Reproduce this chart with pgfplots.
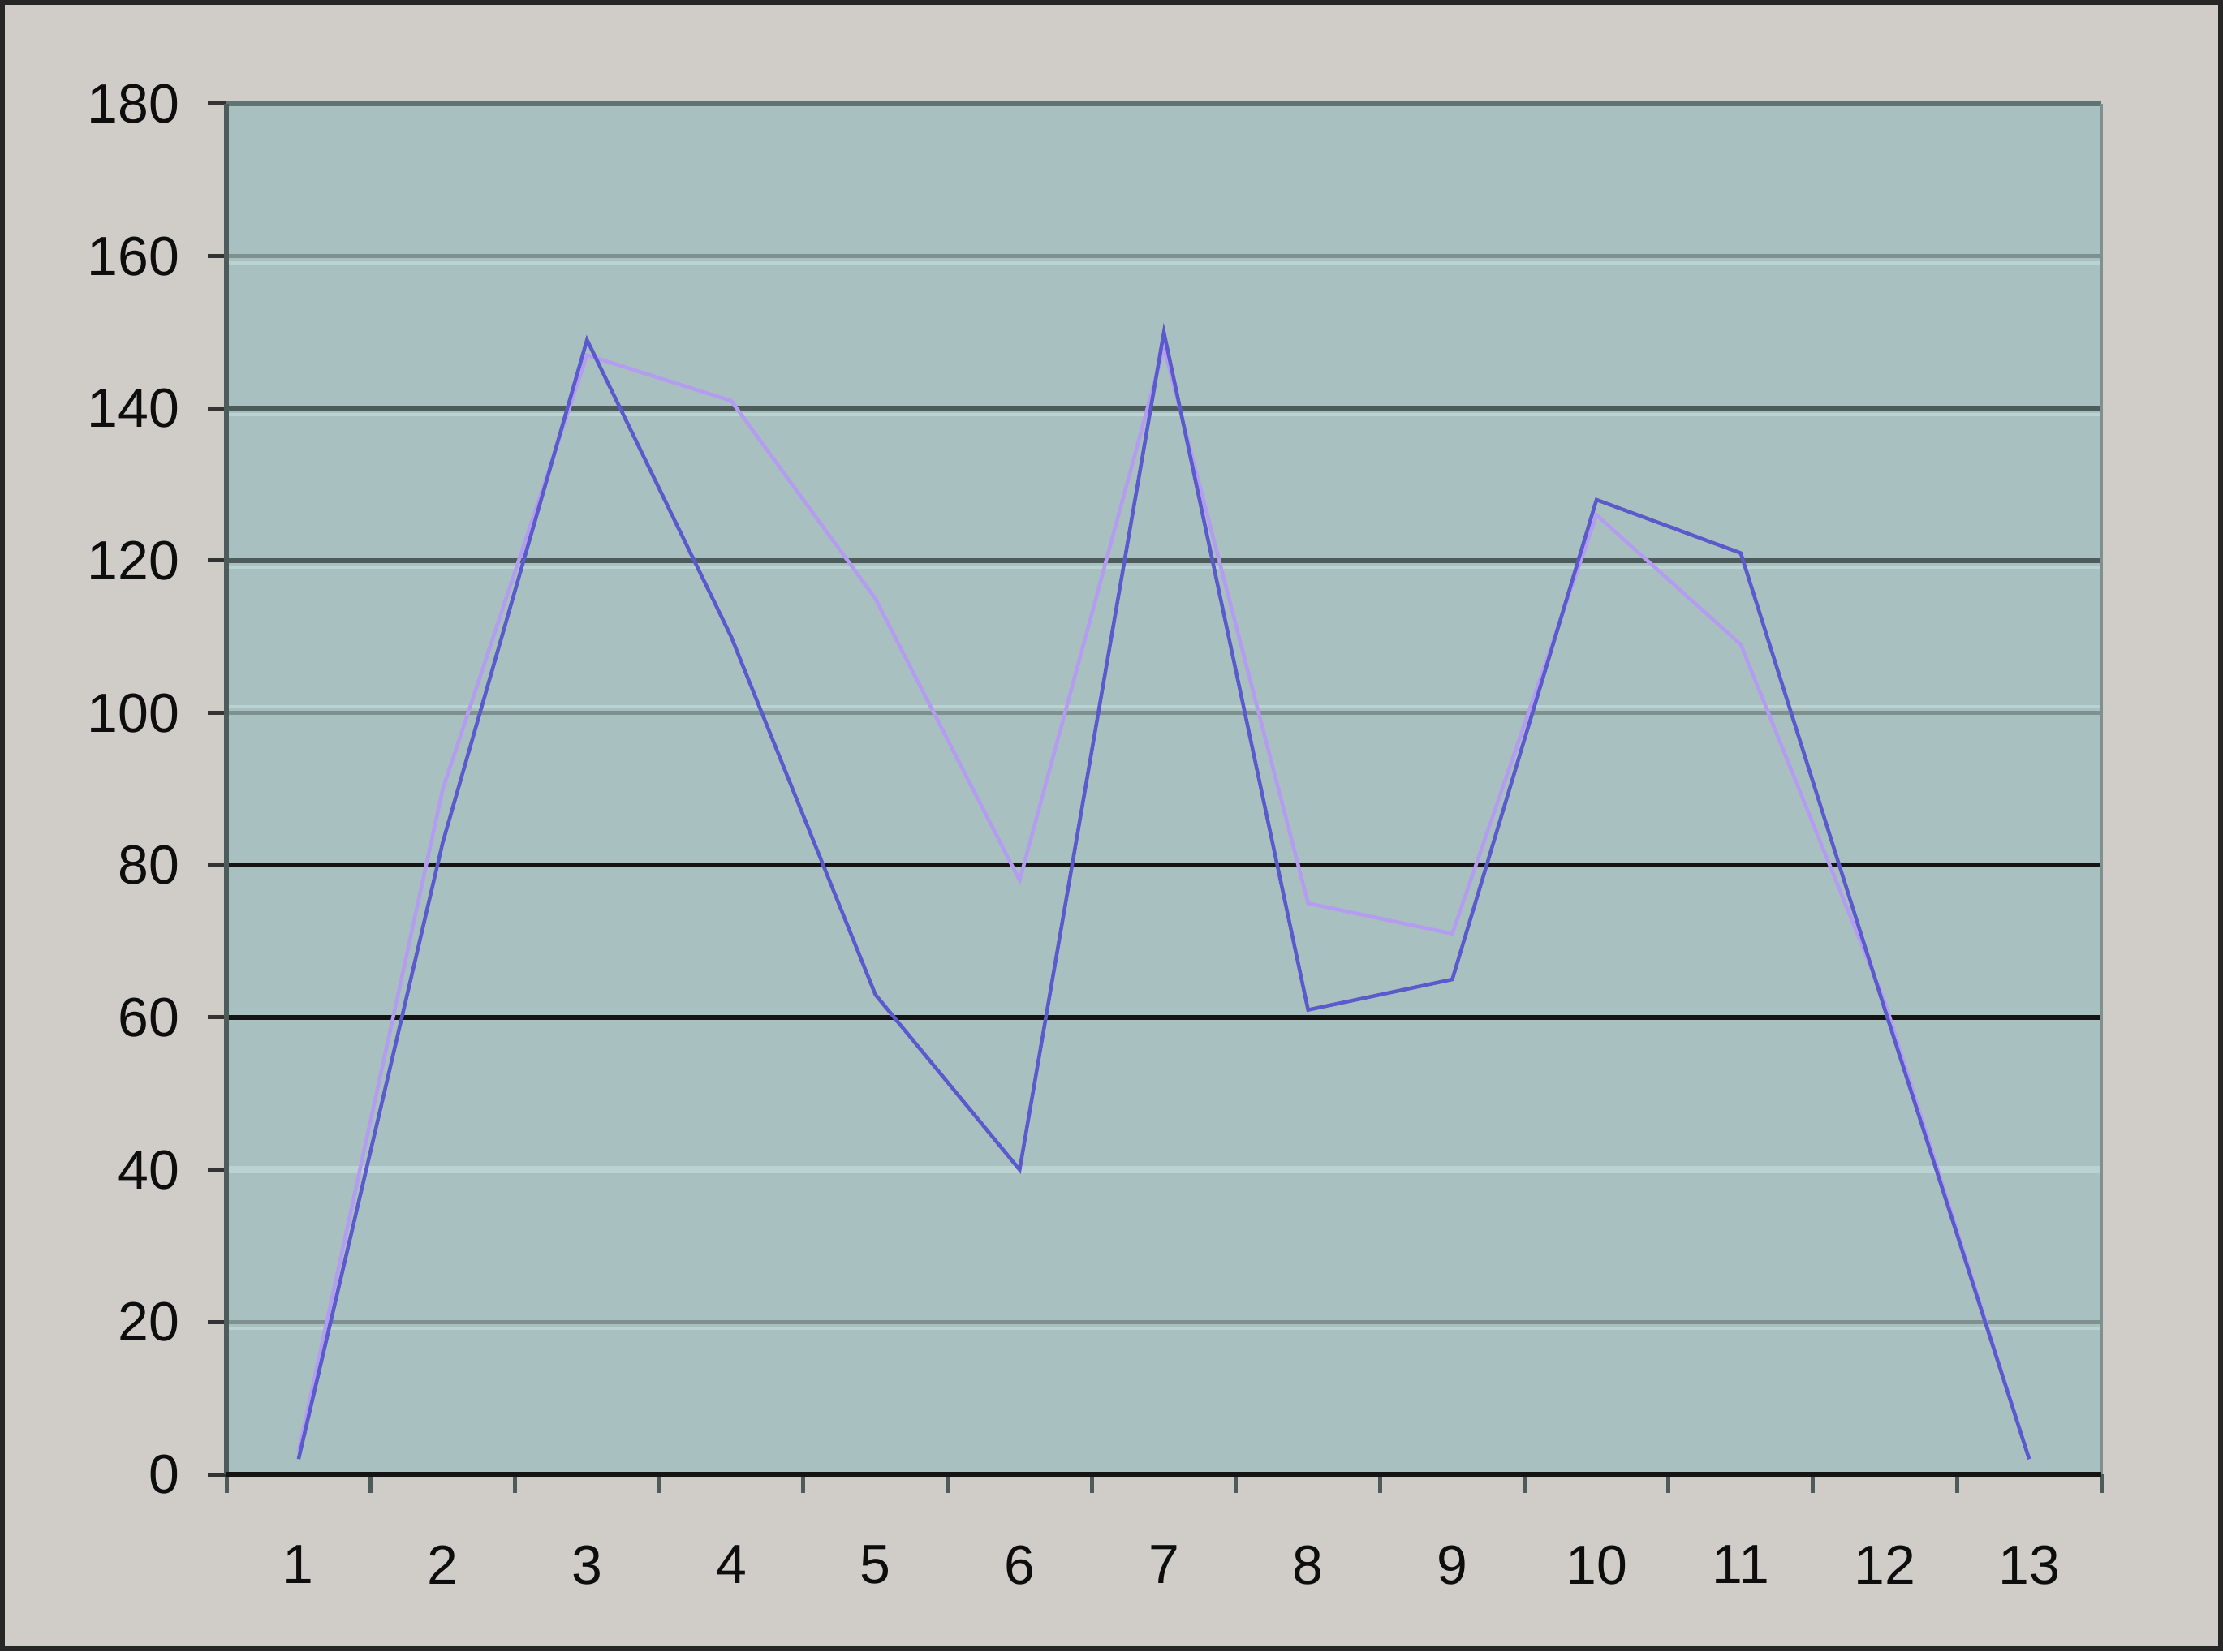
\documentclass[border=0pt]{standalone}
\usepackage{pgfplots}
\pgfplotsset{compat=1.18}
\usepackage{fontspec}
\setmainfont{Liberation Sans}

\definecolor{pagebg}{HTML}{D0CDC9}
\definecolor{plotbg}{HTML}{A9C0C0}
\definecolor{griddark}{HTML}{4D5B5A}
\definecolor{gridmid}{HTML}{7F918E}
\definecolor{gridlight}{HTML}{BBD2D2}
\definecolor{topline}{HTML}{5E7573}
\definecolor{serA}{HTML}{5A5ACC}
\definecolor{serB}{HTML}{B49CF0}

\begin{document}
\begin{tikzpicture}
% page background and frame (1 px of the scan = 0.2bp)
\fill[pagebg] (-55.8bp,-43.6bp) rectangle (492bp,363.4bp);
\draw[black!85, line width=1.2bp] (-55.2bp,-43bp) rectangle (491.4bp,362.8bp);

\begin{axis}[
    at={(0,0)}, anchor=south west,
    scale only axis,
    width=462bp, height=337.8bp,
    xmin=0.5, xmax=13.5,
    ymin=0, ymax=180,
    axis background/.style={fill=plotbg},
    axis line style={draw=none},
    xtick={1,...,13},
    major x tick style={draw=none},
    minor xtick={0.5,1.5,...,13.5},
    minor x tick style={draw=griddark, line width=1bp},
    ytick={0,20,...,180},
    major y tick style={draw=black!80, line width=1bp},
    tick align=outside,
    major tick length=4.5bp,
    minor tick length=4.5bp,
    xtick pos=bottom, ytick pos=left,
    ticklabel style={font=\fontsize{13.6bp}{16bp}\selectfont, text=black!95},
    xticklabel style={inner sep=0pt, anchor=north, yshift=-12.9bp},
    yticklabel style={inner sep=0pt, anchor=east, xshift=-6.9bp},
    /pgf/number format/assume math mode=true,
    clip=false,
]

% horizontal grid lines with the uneven tones of the original
\addplot[gridmid, line width=1bp, forget plot] coordinates {(0.5,20) (13.5,20)};
\addplot[gridlight, line width=0.8bp, yshift=-1.6bp, forget plot] coordinates {(0.5,20) (13.5,20)};
\addplot[gridlight, line width=1.8bp, forget plot] coordinates {(0.5,40) (13.5,40)};
\addplot[black!92, line width=1.2bp, forget plot] coordinates {(0.5,60) (13.5,60)};
\addplot[black!92, line width=1.2bp, forget plot] coordinates {(0.5,80) (13.5,80)};
\addplot[gridmid, line width=1bp, forget plot] coordinates {(0.5,100) (13.5,100)};
\addplot[gridlight, line width=0.8bp, yshift=1.6bp, forget plot] coordinates {(0.5,100) (13.5,100)};
\addplot[griddark, line width=1.2bp, forget plot] coordinates {(0.5,120) (13.5,120)};
\addplot[gridlight, line width=0.8bp, yshift=-1.6bp, forget plot] coordinates {(0.5,120) (13.5,120)};
\addplot[griddark, line width=1.2bp, forget plot] coordinates {(0.5,140) (13.5,140)};
\addplot[gridlight, line width=0.8bp, yshift=-1.6bp, forget plot] coordinates {(0.5,140) (13.5,140)};
\addplot[gridmid, line width=1bp, forget plot] coordinates {(0.5,160) (13.5,160)};
\addplot[gridlight, line width=0.8bp, yshift=-1.6bp, forget plot] coordinates {(0.5,160) (13.5,160)};
\addplot[topline, line width=1.2bp, forget plot] coordinates {(0.5,180) (13.5,180)};

% frame of the plot area
\addplot[gridmid, line width=0.8bp, forget plot] coordinates {(13.5,0) (13.5,180)};
\addplot[griddark, line width=1.3bp, forget plot] coordinates {(0.5,0) (0.5,180)};
\addplot[black!92, line width=1.3bp, forget plot] coordinates {(0.5,0) (13.5,0)};

% series
\addplot[serB, line width=0.9bp] coordinates {
    (1,3) (2,90) (3,147) (4,141) (5,115) (6,78) (7,148)
    (8,75) (9,71) (10,126) (11,109) (12,62) (13,2)
};
\addplot[serA, line width=0.9bp] coordinates {
    (1,2) (2,83) (3,149) (4,110) (5,63) (6,40) (7,150)
    (8,61) (9,65) (10,128) (11,121) (12,61) (13,2)
};
\end{axis}
\end{tikzpicture}
\end{document}
